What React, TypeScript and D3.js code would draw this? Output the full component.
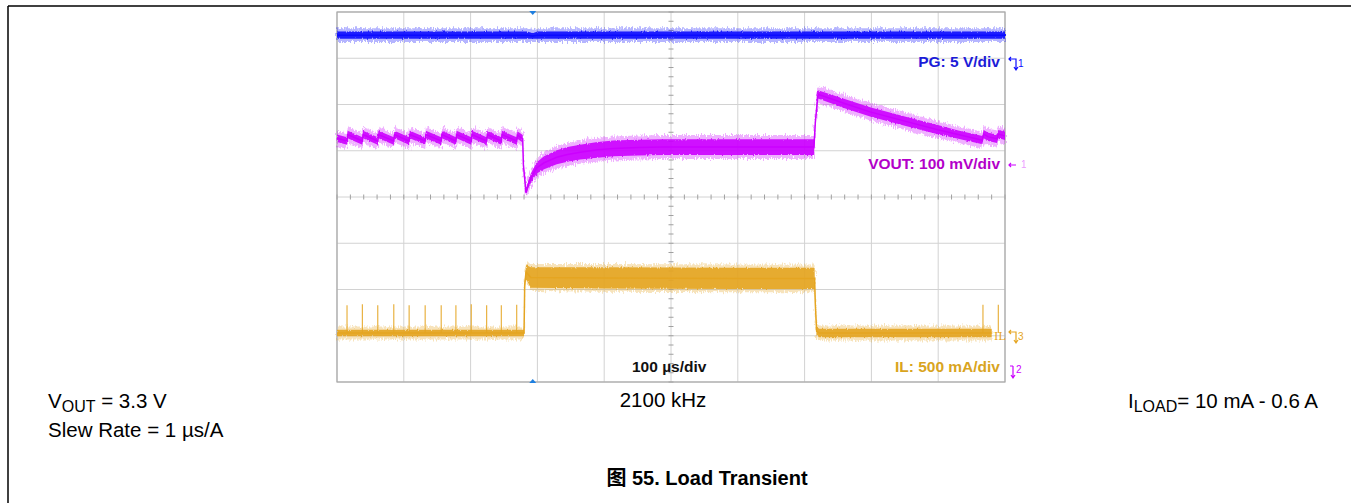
import * as d3 from 'd3';

// scope time axis in µs (100 µs/div), vertical axis in divisions (0 = centre line)
const xTicks = [0, 100, 200, 300, 400, 500, 600, 700, 800, 900, 1000];
const yTicks = [-4, -3, -2, -1, 0, 1, 2, 3, 4];

// PG channel (5 V/div)
const pgTime = [0, 285, 293, 300, 1000];
const pgLevel = [3.5, 3.5, 3.48, 3.5, 3.5];
const pgSpread = [0.08, 0.08, 0.06, 0.08, 0.08];

// VOUT channel (100 mV/div)
const voutTime = [
  0, 15, 16, 38, 39, 61, 62, 85, 86, 108, 109, 132, 133, 156, 157, 178, 179, 201, 202,
  224, 225, 246, 247, 269, 270, 278, 279, 283, 286, 291, 299, 310, 329, 345, 364, 390,
  414, 450, 488, 600, 714, 716, 720, 760, 798, 850, 898, 930, 963, 966, 968, 975, 988,
  990, 1000,
];
const voutLevel = [
  1.27, 1.21, 1.35, 1.21, 1.35, 1.21, 1.35, 1.21, 1.35, 1.21, 1.35, 1.21, 1.35, 1.21,
  1.35, 1.21, 1.35, 1.21, 1.35, 1.21, 1.35, 1.21, 1.35, 1.21, 1.34, 1.26, 0.7, 0.09, 0.26,
  0.43, 0.63, 0.74, 0.86, 0.92, 0.97, 1.02, 1.05, 1.07, 1.08, 1.08, 1.08, 1.6, 2.22, 2.02,
  1.84, 1.64, 1.46, 1.35, 1.24, 1.23, 1.36, 1.3, 1.26, 1.36, 1.32,
];
const voutSpread = [
  0.08, 0.08, 0.08, 0.08, 0.08, 0.08, 0.08, 0.08, 0.08, 0.08, 0.08, 0.08, 0.08, 0.08,
  0.08, 0.08, 0.08, 0.08, 0.08, 0.08, 0.08, 0.08, 0.08, 0.08, 0.08, 0.08, 0.05, 0.05, 0.08,
  0.1, 0.12, 0.14, 0.15, 0.16, 0.16, 0.17, 0.17, 0.17, 0.17, 0.17, 0.17, 0.06, 0.09, 0.1,
  0.1, 0.1, 0.1, 0.09, 0.09, 0.09, 0.09, 0.09, 0.09, 0.09, 0.09,
];

// IL channel (500 mA/div)
const ilTime = [0, 280, 281, 283, 290, 400, 600, 715, 716, 718, 722, 800, 980];
const ilLevel = [-2.94, -2.94, -1.9, -1.62, -1.74, -1.75, -1.76, -1.76, -2.3, -2.9, -2.94, -2.94, -2.94];
const ilSpread = [0.07, 0.07, 0.07, 0.15, 0.22, 0.23, 0.23, 0.23, 0.06, 0.09, 0.09, 0.09, 0.09];
const ilSpikeTime = [15, 38, 61, 85, 108, 132, 156, 178, 201, 224, 246, 269, 967, 990];
const ilSpikePeak = [-2.34, -2.32, -2.34, -2.32, -2.34, -2.34, -2.34, -2.34, -2.32, -2.34, -2.34, -2.33, -2.33, -2.33];

const triggerTime = 293;

const W = 1351;
const H = 503;
const plot = { left: 337, right: 1005, top: 12, bottom: 382 };
const font = "Arial, 'Liberation Sans', 'Noto Sans CJK SC', sans-serif";

const x = d3.scaleLinear().domain([0, 1000]).range([plot.left, plot.right]);
const y = d3.scaleLinear().domain([-4, 4]).range([plot.bottom, plot.top]);

type Pt = { t: number; v: number; s: number };
const zipTrace = (t: number[], v: number[], s: number[]): Pt[] =>
  t.map((tt, i) => ({ t: tt, v: v[i], s: s[i] }));

function bandPath(pts: Pt[], extra: number) {
  return d3
    .area<Pt>()
    .x((d) => x(d.t))
    .y0((d) => y(d.v - d.s - extra))
    .y1((d) => y(d.v + d.s + extra))
    .curve(d3.curveLinear)(pts) as string;
}

function Trace({ pts, color, fringe }: { pts: Pt[]; color: string; fringe: number }) {
  return (
    <g>
      <path d={bandPath(pts, fringe)} fill={color} opacity={0.3} filter="url(#noise)" />
      <path d={bandPath(pts, 0)} fill={color} opacity={0.9} filter="url(#noise2)" />
      <path
        d={d3.line<Pt>().x((d) => x(d.t)).y((d) => y(d.v))(pts) as string}
        fill="none"
        stroke={color}
        strokeWidth={1.5}
      />
    </g>
  );
}

export default function App() {
  const pg = zipTrace(pgTime, pgLevel, pgSpread);
  const vout = zipTrace(voutTime, voutLevel, voutSpread);
  const il = zipTrace(ilTime, ilLevel, ilSpread);

  const minorX = d3.range(0, 1000.01, 20);
  const minorY = d3.range(-4, 4.01, 0.2);
  const cx = x(500);
  const cy = y(0);

  const blue = '#0b0bff';
  const magenta = '#cc00ff';
  const gold = '#e5a521';

  return (
    <div style={{ position: 'absolute', left: 0, top: 0 }}>
      <svg width={W} height={H} style={{ display: 'block', background: '#fff' }}>
        <defs>
          <filter id="noise" filterUnits="userSpaceOnUse" x={plot.left - 10} y={0} width={700} height={400}>
            <feTurbulence type="fractalNoise" baseFrequency="0.9 0.2" numOctaves={2} seed={4} result="t" />
            <feDisplacementMap in="SourceGraphic" in2="t" scale={8} xChannelSelector="R" yChannelSelector="G" />
          </filter>
          <filter id="noise2" filterUnits="userSpaceOnUse" x={plot.left - 10} y={0} width={700} height={400}>
            <feTurbulence type="fractalNoise" baseFrequency="1.2 0.3" numOctaves={1} seed={9} result="t" />
            <feDisplacementMap in="SourceGraphic" in2="t" scale={3} xChannelSelector="R" yChannelSelector="G" />
          </filter>
        </defs>

        {/* page frame */}
        <line x1={8} x2={W} y1={6} y2={6} stroke="#000" strokeWidth={1.5} />
        <line x1={8} x2={8} y1={6} y2={H} stroke="#000" strokeWidth={1.5} />

        {/* grid */}
        <g stroke="#d2d2d2" strokeWidth={1}>
          {xTicks.map((t) => (
            <line key={'gx' + t} x1={x(t)} x2={x(t)} y1={plot.top} y2={plot.bottom} />
          ))}
          {yTicks.map((v) => (
            <line key={'gy' + v} x1={plot.left} x2={plot.right} y1={y(v)} y2={y(v)} />
          ))}
        </g>
        <g stroke="#a0a0a0" strokeWidth={1}>
          {minorX.map((t) => (
            <line key={'mx' + t} x1={x(t)} x2={x(t)} y1={cy - 2.5} y2={cy + 2.5} />
          ))}
          {minorY.map((v) => (
            <line key={'my' + v} x1={cx - 2.5} x2={cx + 2.5} y1={y(v)} y2={y(v)} />
          ))}
        </g>
        <rect
          x={plot.left}
          y={plot.top}
          width={plot.right - plot.left}
          height={plot.bottom - plot.top}
          fill="none"
          stroke="#a8a8a8"
          strokeWidth={1.2}
        />

        {/* traces */}
        <Trace pts={pg} color={blue} fringe={0.07} />
        <Trace pts={il} color={gold} fringe={0.07} />
        <g stroke={gold} strokeWidth={1.2} opacity={0.85}>
          {ilSpikeTime.map((t, i) => (
            <line key={'sp' + t} x1={x(t)} x2={x(t)} y1={y(-2.94)} y2={y(ilSpikePeak[i])} />
          ))}
        </g>
        <Trace pts={vout} color={magenta} fringe={0.09} />

        {/* trigger markers */}
        <path
          d={`M${x(triggerTime) - 3.5},${plot.top - 1} L${x(triggerTime) + 3.5},${plot.top - 1} L${x(triggerTime)},${plot.top + 3} Z`}
          fill="#1e7fe0"
        />
        <path
          d={`M${x(triggerTime) - 3.5},${plot.bottom + 1} L${x(triggerTime) + 3.5},${plot.bottom + 1} L${x(triggerTime)},${plot.bottom - 3} Z`}
          fill="#1e7fe0"
        />

        {/* channel markers on the right */}
        <g fontFamily={font} fontSize={10}>
          <g stroke={blue} fill="none" strokeWidth={1.2}>
            <path d="M1009,59 L1016,59 L1016,70 M1014,67 L1016,70 L1018,67 M1011,57 L1009,59 L1011,61" />
          </g>
          <text x={1018} y={67} fill={blue}>1</text>
          <g stroke={magenta} fill="none" strokeWidth={1.2}>
            <path d="M1009,165 L1016,165 M1011,163 L1009,165 L1011,167" />
          </g>
          <text x={1021} y={168} fill={magenta} opacity={0.4}>1</text>
          <g stroke={gold} fill="none" strokeWidth={1.2}>
            <path d="M1009,332 L1016,332 L1016,343 M1014,340 L1016,343 L1018,340 M1011,330 L1009,332 L1011,334" />
          </g>
          <text x={1018} y={340} fill={gold}>3</text>
          <text x={994} y={340} fill={gold} fontFamily="'DejaVu Serif', serif" fontSize={11}>IL</text>
          <g stroke={magenta} fill="none" strokeWidth={1.2}>
            <path d="M1013,366 L1013,378 M1011,375 L1013,378 L1015,375 M1010,366 L1013,366" />
          </g>
          <text x={1016} y={373} fill={magenta}>2</text>
        </g>

        {/* scope labels */}
        <g fontFamily={font} fontWeight="bold" fontSize={15.5}>
          <text x={1000} y={67} textAnchor="end" fill="#1c1cd8">PG: 5 V/div</text>
          <text x={1000} y={169} textAnchor="end" fill="#b300c9">VOUT: 100 mV/div</text>
          <text x={632} y={372} fill="#111">100 µs/div</text>
          <text x={1000} y={372} textAnchor="end" fill="#d9a41e">IL: 500 mA/div</text>
        </g>

        {/* condition texts */}
        <g fontFamily={font} fontSize={20.5} fill="#000">
          <text x={48} y={408}>
            V<tspan fontSize={16} dy={4}>OUT</tspan>
            <tspan dy={-4}> = 3.3 V</tspan>
          </text>
          <text x={48} y={437}>Slew Rate = 1 µs/A</text>
          <text x={663} y={407} textAnchor="middle">2100 kHz</text>
          <text x={1128} y={408}>
            I<tspan fontSize={16} dy={4}>LOAD</tspan>
            <tspan dy={-4}>= 10 mA - 0.6 A</tspan>
          </text>
          <text x={707} y={485} textAnchor="middle" fontWeight="bold" fontSize={20}>图 55. Load Transient</text>
        </g>
      </svg>
    </div>
  );
}
